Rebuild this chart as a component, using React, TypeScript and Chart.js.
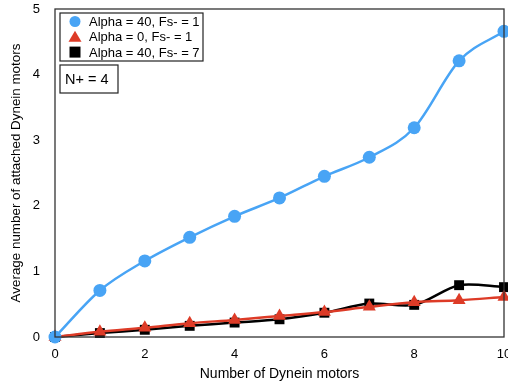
import React, { useEffect, useRef } from "react";
import { Chart, registerables } from "chart.js";

Chart.register(...registerables);

// Number of dynein motors on the cargo
const motorCounts = [0, 1, 2, 3, 4, 5, 6, 7, 8, 9, 10];

// Average number of attached dynein motors for each parameter set
const alpha40Fs1 = [0, 0.71, 1.16, 1.52, 1.84, 2.12, 2.45, 2.74, 3.19, 4.21, 4.66];
const alpha0Fs1 = [0, 0.08, 0.14, 0.21, 0.26, 0.32, 0.38, 0.46, 0.53, 0.56, 0.61];
const alpha40Fs7 = [0, 0.06, 0.11, 0.17, 0.22, 0.27, 0.37, 0.51, 0.49, 0.79, 0.76];

const seriesLabels = ["Alpha = 40, Fs- = 1", "Alpha = 0, Fs- = 1", "Alpha = 40, Fs- = 7"];
const noteText = "N+ = 4";
const xAxisTitle = "Number of Dynein motors";
const yAxisTitle = "Average number of attached Dynein motors";

const BLUE = "#48a4f5";
const RED = "#dd3b27";
const BLACK = "#000000";
const FONT = "'Liberation Sans', Arial, Helvetica, sans-serif";

function drawMarker(ctx: CanvasRenderingContext2D, style: string, x: number, y: number, color: string) {
  ctx.save();
  ctx.fillStyle = color;
  ctx.beginPath();
  if (style === "circle") {
    ctx.arc(x, y, 5.5, 0, Math.PI * 2);
  } else if (style === "triangle") {
    ctx.moveTo(x, y - 6);
    ctx.lineTo(x + 6.5, y + 5);
    ctx.lineTo(x - 6.5, y + 5);
    ctx.closePath();
  } else {
    ctx.rect(x - 5.5, y - 5.5, 11, 11);
  }
  ctx.fill();
  ctx.restore();
}

// Frame around the plot area, plus the in-plot legend and the note box
const framePlugin = {
  id: "frameAndLegend",
  afterDatasetsDraw(chart: any) {
    const { ctx, chartArea } = chart;
    const { left, top, right, bottom } = chartArea;
    ctx.save();
    ctx.strokeStyle = "#333";
    ctx.lineWidth = 1.3;
    ctx.strokeRect(left, top, right - left, bottom - top);

    // legend box
    const lx = left + 5;
    const ly = top + 4;
    const lw = 143;
    const lh = 48;
    ctx.fillStyle = "#fff";
    ctx.fillRect(lx, ly, lw, lh);
    ctx.strokeStyle = "#222";
    ctx.lineWidth = 1.2;
    ctx.strokeRect(lx, ly, lw, lh);
    ctx.font = `13px ${FONT}`;
    ctx.textBaseline = "middle";
    ctx.textAlign = "left";
    chart.data.datasets.forEach((ds: any, i: number) => {
      const cy = ly + 8.5 + i * 15.3;
      drawMarker(ctx, ds.pointStyle, lx + 15, cy, ds.backgroundColor);
      ctx.fillStyle = "#000";
      ctx.fillText(ds.label, lx + 29, cy + 1);
    });

    // note box
    const nx = left + 5;
    const ny = top + 56;
    const nw = 58;
    const nh = 28;
    ctx.fillStyle = "#fff";
    ctx.fillRect(nx, ny, nw, nh);
    ctx.strokeStyle = "#222";
    ctx.strokeRect(nx, ny, nw, nh);
    ctx.fillStyle = "#000";
    ctx.font = `14.5px ${FONT}`;
    ctx.fillText(noteText, nx + 5, ny + nh / 2 + 0.5);
    ctx.restore();
  },
};

export default function App() {
  const canvasRef = useRef<HTMLCanvasElement | null>(null);

  useEffect(() => {
    if (!canvasRef.current) return;
    const toPoints = (ys: number[]) => motorCounts.map((x, i) => ({ x, y: ys[i] }));
    const chart = new Chart(canvasRef.current, {
      type: "line",
      data: {
        datasets: [
          {
            label: seriesLabels[0],
            data: toPoints(alpha40Fs1),
            borderColor: BLUE,
            backgroundColor: BLUE,
            pointStyle: "circle",
            pointRadius: 6.5,
            pointBorderWidth: 0,
            borderWidth: 2.5,
            cubicInterpolationMode: "monotone",
            clip: false,
          },
          {
            label: seriesLabels[1],
            data: toPoints(alpha0Fs1),
            borderColor: RED,
            backgroundColor: RED,
            pointStyle: "triangle",
            pointRadius: 7.5,
            pointBorderWidth: 0,
            borderWidth: 2.5,
            cubicInterpolationMode: "monotone",
            clip: false,
          },
          {
            label: seriesLabels[2],
            data: toPoints(alpha40Fs7),
            borderColor: BLACK,
            backgroundColor: BLACK,
            pointStyle: "rect",
            pointRadius: 7,
            pointBorderWidth: 0,
            borderWidth: 2.5,
            tension: 0.3,
            clip: false,
          },
        ] as any,
      },
      options: {
        responsive: false,
        animation: false,
        devicePixelRatio: 1,
        layout: { padding: { top: 9, right: 16, bottom: 0, left: 0 } },
        plugins: {
          legend: { display: false },
          tooltip: { enabled: false },
        },
        scales: {
          x: {
            type: "linear",
            min: 0,
            max: 10,
            grid: { display: false, drawTicks: false },
            border: { display: false },
            ticks: {
              stepSize: 2,
              padding: 10,
              color: "#000",
              font: { size: 13, family: FONT },
            },
            title: {
              display: true,
              text: xAxisTitle,
              color: "#000",
              font: { size: 14, family: FONT },
              padding: { top: 0, bottom: 4 },
            },
            afterFit: (scale: any) => {
              scale.height = 50;
              scale.paddingLeft = 0;
              scale.paddingRight = 0;
            },
          },
          y: {
            min: 0,
            max: 5,
            grid: { display: false, drawTicks: false },
            border: { display: false },
            ticks: {
              stepSize: 1,
              padding: 15,
              color: "#000",
              font: { size: 13, family: FONT },
            },
            title: {
              display: true,
              text: yAxisTitle,
              color: "#000",
              font: { size: 13.4, family: FONT },
              padding: { top: 8, bottom: 0 },
            },
            afterFit: (scale: any) => {
              scale.width = 55;
              scale.paddingTop = 0;
              scale.paddingBottom = 0;
            },
          },
        },
      } as any,
      plugins: [framePlugin],
    });
    return () => chart.destroy();
  }, []);

  return (
    <div
      style={{
        position: "fixed",
        left: 0,
        top: 0,
        width: 508,
        height: 387,
        overflow: "hidden",
        background: "#fff",
      }}
    >
      <canvas ref={canvasRef} width={520} height={387} style={{ display: "block" }} />
    </div>
  );
}
